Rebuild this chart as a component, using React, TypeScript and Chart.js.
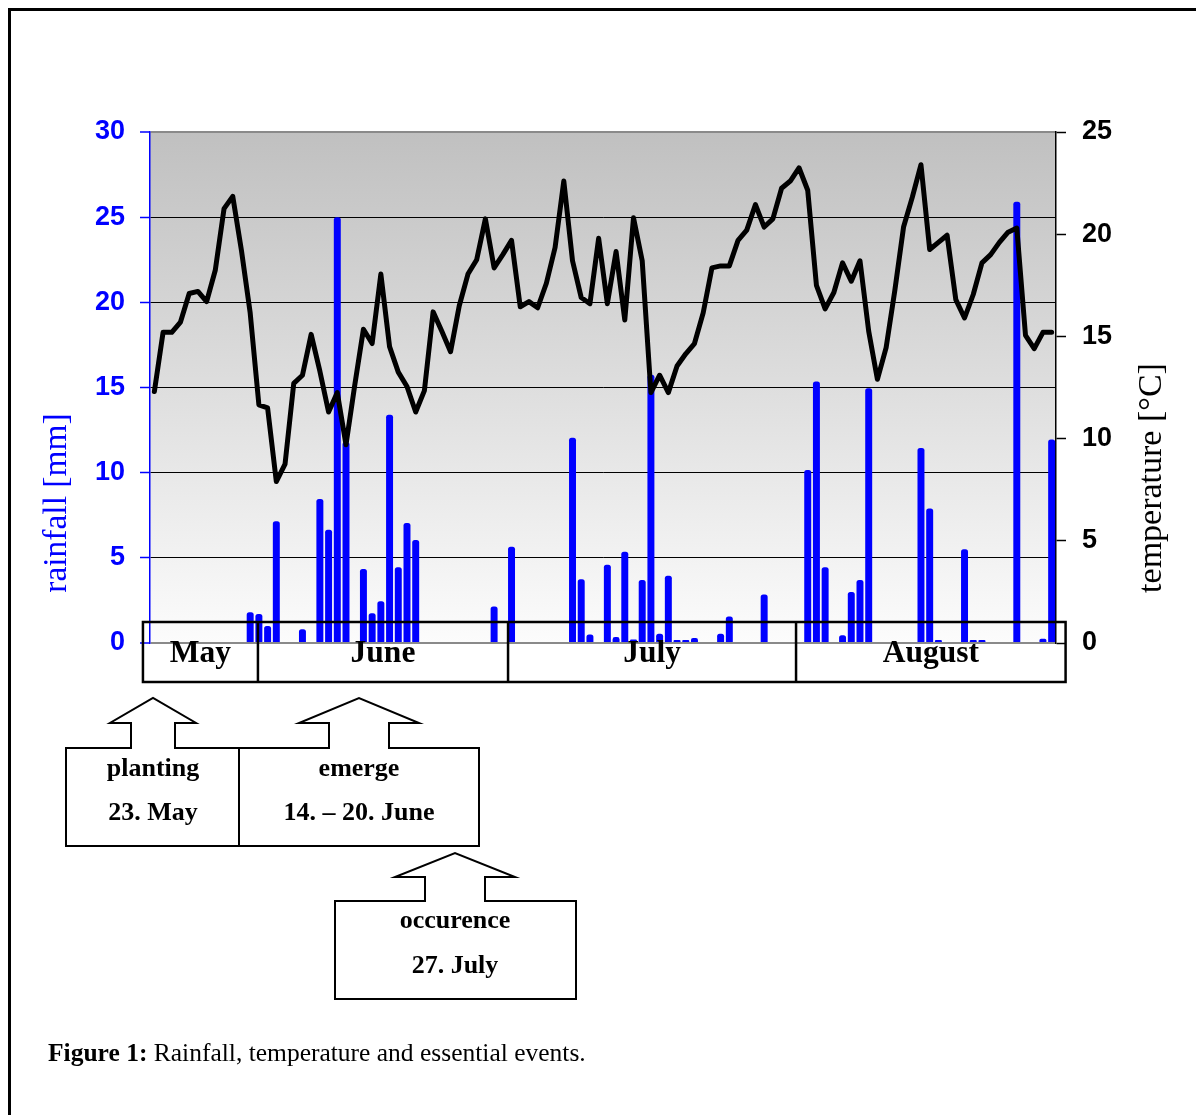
import React, { useEffect, useRef } from "react";
import { Chart, registerables } from "chart.js";

Chart.register(...registerables);

const CANVAS_W = 1188;
const CANVAS_H = 1107;

// ---------- data ----------
const monthNames = ["May", "June", "July", "August"];
const monthDays = [31, 30, 31, 31];
const firstDay = 20; // first recorded day: 20 May

const days: string[] = [];
monthNames.forEach((m, mi) => {
  const start = mi === 0 ? firstDay : 1;
  for (let d = start; d <= monthDays[mi]; d++) days.push(`${d}. ${m}`);
});

// daily rainfall [mm] (null = no rain)
const rainfall: (number | null)[] = [
  null, null, null, null, null, null, null, null, null, null,
  null, 1.8, 1.7, 1.0, 7.15, null, null, 0.8, null, 8.45,
  6.65, 25.0, 11.8, null, 4.35, 1.75, 2.45, 13.4, 4.45, 7.05,
  6.05, null, null, null, null, null, null, null, null, 2.15,
  null, 5.65, null, null, null, null, null, null, 12.05, 3.75,
  0.5, null, 4.6, 0.35, 5.35, 0.2, 3.7, 15.75, 0.55, 3.95,
  0.15, 0.15, 0.3, null, null, 0.55, 1.55, null, null, null,
  2.85, null, null, null, null, 10.15, 15.35, 4.45, null, 0.45,
  3.0, 3.7, 14.95, null, null, null, null, null, 11.45, 7.9,
  0.1, null, null, 5.5, 0.1, 0.1, null, null, null, 25.9,
  null, null, 0.25, 11.95,
];

// daily mean temperature [°C]
const temperature: number[] = [
  12.3, 15.2, 15.2, 15.7, 17.1, 17.2, 16.7, 18.25, 21.25, 21.85,
  19.2, 16.15, 11.65, 11.5, 7.9, 8.75, 12.7, 13.1, 15.1, 13.3,
  11.3, 12.25, 9.7, 12.6, 15.35, 14.65, 18.05, 14.5, 13.25, 12.55,
  11.3, 12.35, 16.2, 15.25, 14.25, 16.5, 18.05, 18.75, 20.75, 18.35,
  19.0, 19.7, 16.45, 16.7, 16.4, 17.6, 19.35, 22.6, 18.7, 16.9,
  16.6, 19.8, 16.6, 19.15, 15.8, 20.8, 18.7, 12.25, 13.1, 12.25,
  13.55, 14.15, 14.65, 16.15, 18.35, 18.45, 18.45, 19.7, 20.2, 21.45,
  20.35, 20.75, 22.25, 22.6, 23.25, 22.15, 17.5, 16.35, 17.15, 18.6,
  17.7, 18.7, 15.25, 12.9, 14.45, 17.25, 20.35, 21.8, 23.4, 19.25,
  19.6, 19.95, 16.8, 15.9, 17.05, 18.6, 19.0, 19.6, 20.1, 20.3,
  15.05, 14.4, 15.2, 15.2,
];

const rainfallAxis = { min: 0, max: 30, step: 5 };
const temperatureAxis = { min: 0, max: 25, step: 5 };
const rainfallTitle = "rainfall [mm]";
const temperatureTitle = "temperature [°C]";

// month box edges, in day-index units
const monthBoxEdges = [-1.31, 11.89, 40.6, 73.66, 104.6];

const eventTitles = ["planting", "emerge", "occurence"];
const eventDates = ["23. May", "14. – 20. June", "27. July"];
const captionBold = "Figure 1:";
const captionText = " Rainfall, temperature and essential events.";

// ---------- layout of callouts (pixels) ----------
const calloutGeometry = [
  { box: [58, 740, 231, 838], shaft: [123, 167], head: [102, 188, 715], tip: [145, 690], text: [145, 768, 812] },
  { box: [231, 740, 471, 838], shaft: [321, 381], head: [291, 411, 715], tip: [351, 690], text: [351, 768, 812] },
  { box: [327, 893, 568, 991], shaft: [417, 477], head: [387, 507, 869], tip: [447, 845], text: [447, 920, 965] },
];

const SERIF = '"Liberation Serif", "Times New Roman", serif';
const SANS = '"Liberation Sans", Arial, sans-serif';

const decorPlugin = {
  id: "decor",
  beforeDraw(chart: any) {
    const { ctx, chartArea: a } = chart;
    ctx.save();
    ctx.fillStyle = "#ffffff";
    ctx.fillRect(0, 0, chart.width, chart.height);
    const g = ctx.createLinearGradient(0, a.top, 0, a.bottom);
    g.addColorStop(0, "rgb(192,192,192)");
    g.addColorStop(1, "rgb(252,252,252)");
    ctx.fillStyle = g;
    ctx.fillRect(a.left, a.top, a.right - a.left, a.bottom - a.top);
    ctx.restore();
  },
  afterDraw(chart: any) {
    const ctx = chart.ctx as CanvasRenderingContext2D;
    const xs = chart.scales.x;
    ctx.save();

    // frame
    ctx.fillStyle = "#000";
    ctx.fillRect(0, 0, chart.width, 3);
    ctx.fillRect(0, 0, 3, chart.height);

    // axis titles
    ctx.textAlign = "center";
    ctx.textBaseline = "middle";
    ctx.save();
    ctx.font = `33.5px ${SERIF}`;
    ctx.translate(49, 495);
    ctx.rotate(-Math.PI / 2);
    ctx.fillStyle = "#0000ff";
    ctx.fillText(rainfallTitle, 0, 0);
    ctx.restore();
    ctx.save();
    ctx.font = `34px ${SERIF}`;
    ctx.translate(1144, 470);
    ctx.rotate(-Math.PI / 2);
    ctx.fillStyle = "#000";
    ctx.fillText(temperatureTitle, 0, 0);
    ctx.restore();

    // month boxes
    const px = monthBoxEdges.map((e) => xs.getPixelForValue(e));
    const yTop = 614;
    const yBot = 674;
    ctx.strokeStyle = "#000";
    ctx.lineWidth = 2.5;
    ctx.strokeRect(px[0], yTop, px[px.length - 1] - px[0], yBot - yTop);
    for (let i = 1; i < px.length - 1; i++) {
      ctx.beginPath();
      ctx.moveTo(px[i], yTop);
      ctx.lineTo(px[i], yBot);
      ctx.stroke();
    }
    ctx.fillStyle = "#000";
    ctx.font = `bold 31.5px ${SERIF}`;
    ctx.textAlign = "center";
    ctx.textBaseline = "alphabetic";
    monthNames.forEach((m, i) => ctx.fillText(m, (px[i] + px[i + 1]) / 2, 653.5));

    // callouts
    ctx.lineWidth = 2;
    ctx.lineJoin = "miter";
    calloutGeometry.forEach((c, i) => {
      const [bl, bt, br, bb] = c.box;
      const [sl, sr] = c.shaft;
      const [hl, hr, hy] = c.head;
      const [tx, ty] = c.tip;
      ctx.beginPath();
      ctx.moveTo(bl, bb);
      ctx.lineTo(bl, bt);
      ctx.lineTo(sl, bt);
      ctx.lineTo(sl, hy);
      ctx.lineTo(hl, hy);
      ctx.lineTo(tx, ty);
      ctx.lineTo(hr, hy);
      ctx.lineTo(sr, hy);
      ctx.lineTo(sr, bt);
      ctx.lineTo(br, bt);
      ctx.lineTo(br, bb);
      ctx.closePath();
      ctx.stroke();
      ctx.font = `bold 26px ${SERIF}`;
      ctx.fillText(eventTitles[i], c.text[0], c.text[1]);
      ctx.fillText(eventDates[i], c.text[0], c.text[2]);
    });

    // caption
    ctx.textAlign = "left";
    ctx.font = `bold 25.5px ${SERIF}`;
    ctx.fillText(captionBold, 40, 1053);
    const w = ctx.measureText(captionBold).width;
    ctx.font = `25.5px ${SERIF}`;
    ctx.fillText(captionText, 40 + w, 1053);

    ctx.restore();
  },
};

export default function App() {
  const ref = useRef<HTMLCanvasElement | null>(null);

  useEffect(() => {
    if (!ref.current) return;
    const chart = new Chart(ref.current, {
      type: "bar",
      data: {
        labels: days,
        datasets: [
          {
            type: "line",
            label: "temperature",
            data: temperature,
            yAxisID: "yT",
            borderColor: "#000000",
            borderWidth: 5,
            pointRadius: 0,
            tension: 0,
            borderJoinStyle: "round",
            borderCapStyle: "round",
            order: 0,
          } as any,
          {
            type: "bar",
            label: "rainfall",
            data: rainfall,
            yAxisID: "yR",
            backgroundColor: "#0000ff",
            borderWidth: 0,
            borderRadius: 2.5,
            barPercentage: 1,
            categoryPercentage: 0.8,
            minBarLength: 3,
            order: 1,
          } as any,
        ],
      },
      options: {
        responsive: false,
        animation: false,
        layout: { padding: { top: 124, bottom: CANVAS_H - 635, left: 0, right: 0 } },
        plugins: { legend: { display: false }, tooltip: { enabled: false }, title: { display: false } },
        scales: {
          x: { type: "category", display: false, offset: true, grid: { display: false } },
          yR: {
            position: "left",
            min: rainfallAxis.min,
            max: rainfallAxis.max,
            afterFit: (s: any) => {
              s.width = 142;
            },
            ticks: {
              stepSize: rainfallAxis.step,
              color: "#0000ff",
              padding: 15,
              font: { family: SANS, weight: "bold", size: 27 },
            },
            grid: {
              color: (c: any) => (c.tick && (c.tick.value === 0 || c.tick.value === 30) ? "#8a8a8a" : "#000000"),
              lineWidth: (c: any) => (c.tick && (c.tick.value === 0 || c.tick.value === 30) ? 2 : 1),
              tickColor: "#0000ff",
              tickWidth: 1.5,
              tickLength: 10,
            },
            border: { color: "#0000ff", width: 1.5 },
          },
          yT: {
            position: "right",
            min: temperatureAxis.min,
            max: temperatureAxis.max,
            afterFit: (s: any) => {
              s.width = CANVAS_W - 1048;
            },
            ticks: {
              stepSize: temperatureAxis.step,
              color: "#000000",
              padding: 16,
              font: { family: SANS, weight: "bold", size: 27 },
            },
            grid: {
              drawOnChartArea: false,
              color: "#000000",
              tickColor: "#000000",
              tickWidth: 1.5,
              tickLength: 10,
            },
            border: { color: "#000000", width: 1.5 },
          },
        },
      } as any,
      plugins: [decorPlugin],
    });
    return () => chart.destroy();
  }, []);

  return (
    <div style={{ position: "absolute", left: 8, top: 8, width: CANVAS_W, height: CANVAS_H }}>
      <canvas ref={ref} width={CANVAS_W} height={CANVAS_H} style={{ display: "block" }} />
    </div>
  );
}
